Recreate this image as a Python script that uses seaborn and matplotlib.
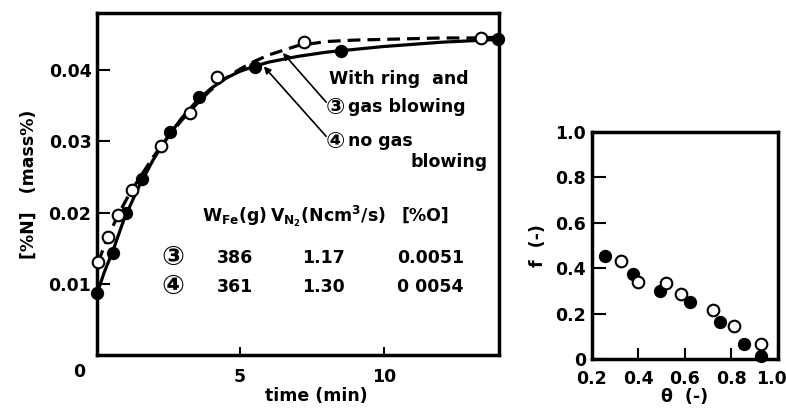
import numpy as np
import pandas as pd
import seaborn as sns
import matplotlib.pyplot as plt
import matplotlib.transforms as mtransforms

# ---------------- data ----------------
# left panel: nitrogen content vs time
t_gas = [0.09, 0.43, 0.77, 1.28, 2.26, 3.26, 4.22, 7.23, 13.39]          # (3) gas blowing, open
n_gas = [0.0130, 0.0165, 0.0196, 0.0232, 0.0293, 0.0340, 0.0390, 0.0439, 0.0445]
t_nogas = [0.06, 0.60, 1.06, 1.62, 2.57, 3.59, 5.52, 8.51, 13.95]       # (4) no gas blowing, filled
n_nogas = [0.0087, 0.0143, 0.0199, 0.0247, 0.0313, 0.0362, 0.0404, 0.0426, 0.0443]

# fitted curves as drawn
curve_t_gas = [0.09, 0.4, 0.8, 1.2, 1.6, 2.0, 2.5, 3.0, 3.5, 4.0, 4.5, 5.0, 5.5, 6.0, 7.0, 8.0, 9.0, 10.0, 11.0, 12.0, 13.0, 14.0]
curve_n_gas = [0.0130, 0.0163, 0.0198, 0.0228, 0.0253, 0.0278, 0.0305, 0.0330, 0.0352, 0.0372, 0.0388, 0.0401, 0.0412, 0.0421, 0.0434, 0.0440, 0.0442, 0.0443, 0.0444, 0.0445, 0.0445, 0.0446]
curve_t_nogas = [0.06, 0.3, 0.6, 1.0, 1.5, 2.0, 2.5, 3.0, 3.5, 4.0, 4.5, 5.0, 5.5, 6.0, 7.0, 8.0, 9.0, 10.0, 11.0, 12.0, 13.0, 14.0]
curve_n_nogas = [0.0087, 0.0116, 0.0146, 0.0192, 0.0236, 0.0274, 0.0306, 0.0333, 0.0356, 0.0374, 0.0388, 0.0398, 0.0405, 0.0411, 0.0419, 0.0425, 0.0429, 0.0433, 0.0436, 0.0439, 0.0441, 0.0443]

# right panel: f vs theta
theta_filled = [0.258, 0.378, 0.495, 0.621, 0.752, 0.856, 0.928]
f_filled = [0.456, 0.376, 0.301, 0.252, 0.166, 0.066, 0.013]
theta_open = [0.324, 0.397, 0.520, 0.582, 0.720, 0.810, 0.926]
f_open = [0.431, 0.341, 0.337, 0.286, 0.218, 0.145, 0.069]

# table values
tbl_marks = ["\u2462", "\u2463"]
tbl_w = ["386", "361"]
tbl_v = ["1.17", "1.30"]
tbl_o = ["0.0051", "0 0054"]

left_xticks = [5, 10]
left_yticks = [0.01, 0.02, 0.03, 0.04]
right_xticks = [0.2, 0.4, 0.6, 0.8, 1.0]
right_yticks = [0, 0.2, 0.4, 0.6, 0.8, 1.0]
right_yticklabels = ["0", "0.2", "0.4", "0.6", "0.8", "1.0"]

# ---------------- style ----------------
sns.set_theme(style="ticks")
plt.rcParams['font.family'] = ['DejaVu Sans', 'Noto Sans CJK JP']
plt.rcParams['font.weight'] = 'bold'
plt.rcParams['mathtext.fontset'] = 'dejavusans'
plt.rcParams['mathtext.default'] = 'bf'
for k in ['text.color', 'axes.labelcolor', 'xtick.color', 'ytick.color', 'axes.edgecolor']:
    plt.rcParams[k] = 'black'
FS = 12.5
CJK = ['DejaVu Sans', 'Noto Sans CJK JP']

fig = plt.figure(figsize=(7.86, 4.08), dpi=100)
ax = fig.add_axes([0.1234, 0.1299, 0.5115, 0.8382])
ax2 = fig.add_axes([0.7528, 0.1194, 0.2370, 0.5578])

df_gas = pd.DataFrame({"t": t_gas, "n": n_gas})
df_nogas = pd.DataFrame({"t": t_nogas, "n": n_nogas})
cg = pd.DataFrame({"t": curve_t_gas, "n": curve_n_gas})
cn = pd.DataFrame({"t": curve_t_nogas, "n": curve_n_nogas})

sns.lineplot(data=cn, x="t", y="n", ax=ax, color="black", lw=2.3, sort=False, estimator=None)
sns.lineplot(data=cg, x="t", y="n", ax=ax, color="black", lw=2.3, sort=False, estimator=None,
             linestyle=(0, (4, 2.2)))
sns.scatterplot(data=df_nogas, x="t", y="n", ax=ax, color="black", s=70, edgecolor="black",
                linewidth=1.2, zorder=5, clip_on=False)
sns.scatterplot(data=df_gas, x="t", y="n", ax=ax, color="white", s=70, edgecolor="black",
                linewidth=1.5, zorder=5, clip_on=False)

ax.set_xlim(0.05, 14)
ax.set_ylim(0, 0.048)
ax.set_xticks(left_xticks)
ax.set_xticklabels([str(v) for v in left_xticks])
ax.set_yticks(left_yticks)
ax.set_yticklabels([f"{v:.2f}" for v in left_yticks])
ax.tick_params(axis='both', direction='in', width=1.5, labelsize=FS, colors='black')
ax.tick_params(axis='y', length=9, pad=4)
ax.tick_params(axis='x', length=6, pad=9)
for sp in ax.spines.values():
    sp.set_visible(True)
    sp.set_linewidth(2.5)
    sp.set_color('black')
ax.set_xlabel("time (min)", fontsize=FS, fontweight='bold')
ax.xaxis.set_label_coords(0.545, -0.095)
ax.set_ylabel("[%N]   (mass%)", fontsize=FS, fontweight='bold', labelpad=8)
ax.text(-0.045, -0.05, "0", transform=ax.transAxes, fontsize=FS, fontweight='bold',
        ha='center', va='center')

# annotations
ax.text(8.09, 0.0387, "With ring  and", fontsize=FS, fontweight='bold', ha='left', va='center')
ax.text(8.0, 0.0348, "\u2462", fontsize=FS + 4, ha='left', va='center', family=CJK)
ax.text(8.75, 0.0348, "gas blowing", fontsize=FS, fontweight='bold', ha='left', va='center')
ax.text(8.0, 0.0300, "\u2463", fontsize=FS + 4, ha='left', va='center', family=CJK)
ax.text(8.75, 0.0300, "no gas", fontsize=FS, fontweight='bold', ha='left', va='center')
ax.text(13.6, 0.0271, "blowing", fontsize=FS, fontweight='bold', ha='right', va='center')
ax.annotate("", xy=(6.5, 0.0424), xytext=(8.0, 0.0355),
            arrowprops=dict(arrowstyle='-|>', color='black', lw=1.2, mutation_scale=10,
                            shrinkA=0, shrinkB=0))
ax.annotate("", xy=(5.84, 0.0405), xytext=(8.0, 0.0307),
            arrowprops=dict(arrowstyle='-|>', color='black', lw=1.2, mutation_scale=10,
                            shrinkA=0, shrinkB=0))

# table
ax.text(4.83, 0.0195, r"W$_{\rm Fe}$(g)", fontsize=FS, ha='center', va='center')
ax.text(8.06, 0.0195, r"V$_{\rm N_2}$(Ncm$^3$/s)", fontsize=FS, ha='center', va='center')
ax.text(11.46, 0.0195, "[%O]", fontsize=FS, fontweight='bold', ha='center', va='center')
row_y = [0.0136, 0.0096]
for i in range(2):
    ax.text(2.67, row_y[i], tbl_marks[i], fontsize=FS + 7, ha='center', va='center', family=CJK)
    ax.text(4.83, row_y[i], tbl_w[i], fontsize=FS, fontweight='bold', ha='center', va='center')
    ax.text(7.92, row_y[i], tbl_v[i], fontsize=FS, fontweight='bold', ha='center', va='center')
    ax.text(11.63, row_y[i], tbl_o[i], fontsize=FS, fontweight='bold', ha='center', va='center')

# right panel
dfo = pd.DataFrame({"theta": theta_open, "f": f_open})
dff = pd.DataFrame({"theta": theta_filled, "f": f_filled})
sns.scatterplot(data=dff, x="theta", y="f", ax=ax2, color="black", s=70, edgecolor="black",
                linewidth=1.2, zorder=5, clip_on=False)
sns.scatterplot(data=dfo, x="theta", y="f", ax=ax2, color="white", s=70, edgecolor="black",
                linewidth=1.5, zorder=5, clip_on=False)
ax2.set_xlim(0.2, 1.0)
ax2.set_ylim(0, 1.0)
ax2.set_xticks(right_xticks)
ax2.set_xticklabels([f"{v:.1f}" for v in right_xticks])
ax2.set_yticks(right_yticks)
ax2.set_yticklabels(right_yticklabels)
ax2.tick_params(axis='both', direction='in', width=1.5, labelsize=FS, colors='black')
ax2.tick_params(axis='y', length=10, pad=4)
ax2.tick_params(axis='x', length=8, pad=8)
for sp in ax2.spines.values():
    sp.set_visible(True)
    sp.set_linewidth(2.5)
    sp.set_color('black')
# keep the last tick label inside the figure
last = ax2.get_xticklabels()[-1]
last.set_transform(last.get_transform() + mtransforms.ScaledTranslation(-7 / 100, 0, fig.dpi_scale_trans))
ax2.set_xlabel("\u03b8  (-)", fontsize=FS, fontweight='bold', labelpad=0)
ax2.set_ylabel("f  (-)", fontsize=FS, fontweight='bold', labelpad=6)

fig.savefig("out.png", dpi=100)
